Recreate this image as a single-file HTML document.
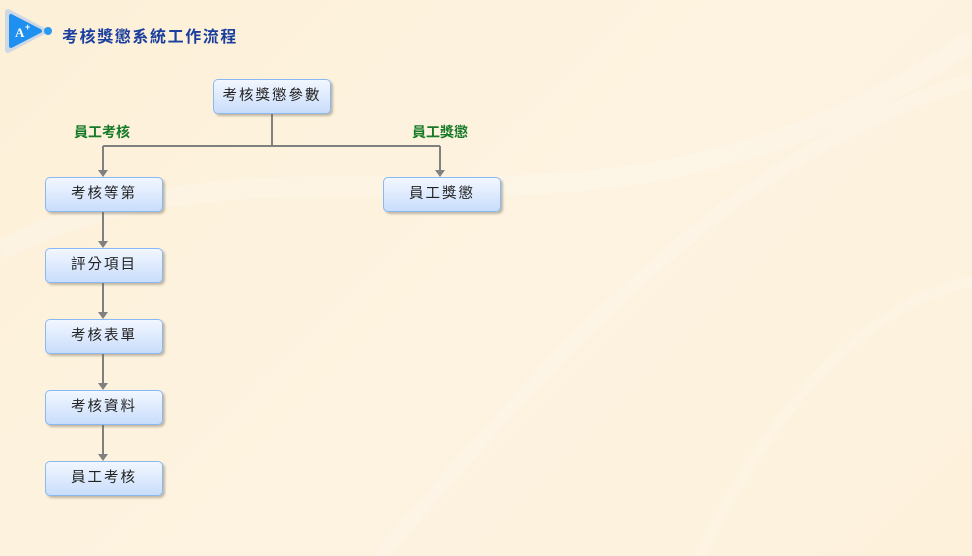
<!DOCTYPE html>
<html><head><meta charset="utf-8"><style>
body{margin:0;width:972px;height:556px;overflow:hidden;background:linear-gradient(135deg,#fdf0d8 0%,#fdf3e0 50%,#fdf1dc 100%);font-family:"Liberation Sans","Noto Sans CJK TC",sans-serif;position:relative}
.b{position:absolute;box-sizing:border-box;width:118px;height:35px;border:1.5px solid #8ab8f0;border-radius:5px;background:linear-gradient(#f2f7ff,#c9ddfb);box-shadow:2px 2px 2px rgba(120,110,90,.45);text-align:center;line-height:33px;font-size:14.5px;color:#222;letter-spacing:2px}
.g{position:absolute;color:#157a25;font-weight:bold;font-size:14px}
</style></head><body>
<svg width="972" height="556" style="position:absolute;left:0;top:0">
<path d="M0 250 C300 100 600 300 972 40" stroke="#fff" stroke-opacity=".2" stroke-width="20" fill="none"/>
<path d="M380 556 C600 300 750 150 972 80" stroke="#fff" stroke-opacity=".2" stroke-width="14" fill="none"/>
<path d="M700 556 C800 350 900 300 972 280" stroke="#fff" stroke-opacity=".2" stroke-width="10" fill="none"/>
<g stroke="#808080" stroke-width="2" fill="none">
<path d="M272 113V146M103 146H440M103 146V171M440 146V171M103 212V242M103 283V313M103 354V384M103 425V455"/>
</g>
<g fill="#808080">
<path d="M98 170h10l-5 7zM435 170h10l-5 7zM98 241h10l-5 7zM98 312h10l-5 7zM98 383h10l-5 7zM98 454h10l-5 7z"/>
</g>
<path d="M8 12 L8 50 L44 31 Z" fill="#e4eaf2" stroke="#d0d8e4" stroke-width="6" stroke-linejoin="round"/>
<path d="M11 16 L11 46 L40 31 Z" fill="#1f8ff0" stroke="#1f8ff0" stroke-width="4" stroke-linejoin="round"/>
<text x="15" y="37" fill="#fff" font-size="13" font-weight="bold" font-family="Liberation Serif">A</text>
<text x="25" y="30" fill="#fff" font-size="9" font-weight="bold">+</text>
<circle cx="48" cy="31" r="4" fill="#2a9af0"/>
</svg>
<div style="position:absolute;left:62px;top:23px;font-size:16px;font-weight:bold;color:#1a3f9e;letter-spacing:1.6px">考核獎懲系統工作流程</div>
<div class="b" style="left:213px;top:79px">考核獎懲參數</div>
<div class="g" style="left:74px;top:122px">員工考核</div>
<div class="g" style="left:412px;top:122px">員工獎懲</div>
<div class="b" style="left:45px;top:177px">考核等第</div>
<div class="b" style="left:383px;top:177px">員工獎懲</div>
<div class="b" style="left:45px;top:248px">評分項目</div>
<div class="b" style="left:45px;top:319px">考核表單</div>
<div class="b" style="left:45px;top:390px">考核資料</div>
<div class="b" style="left:45px;top:461px">員工考核</div>
</body></html>
